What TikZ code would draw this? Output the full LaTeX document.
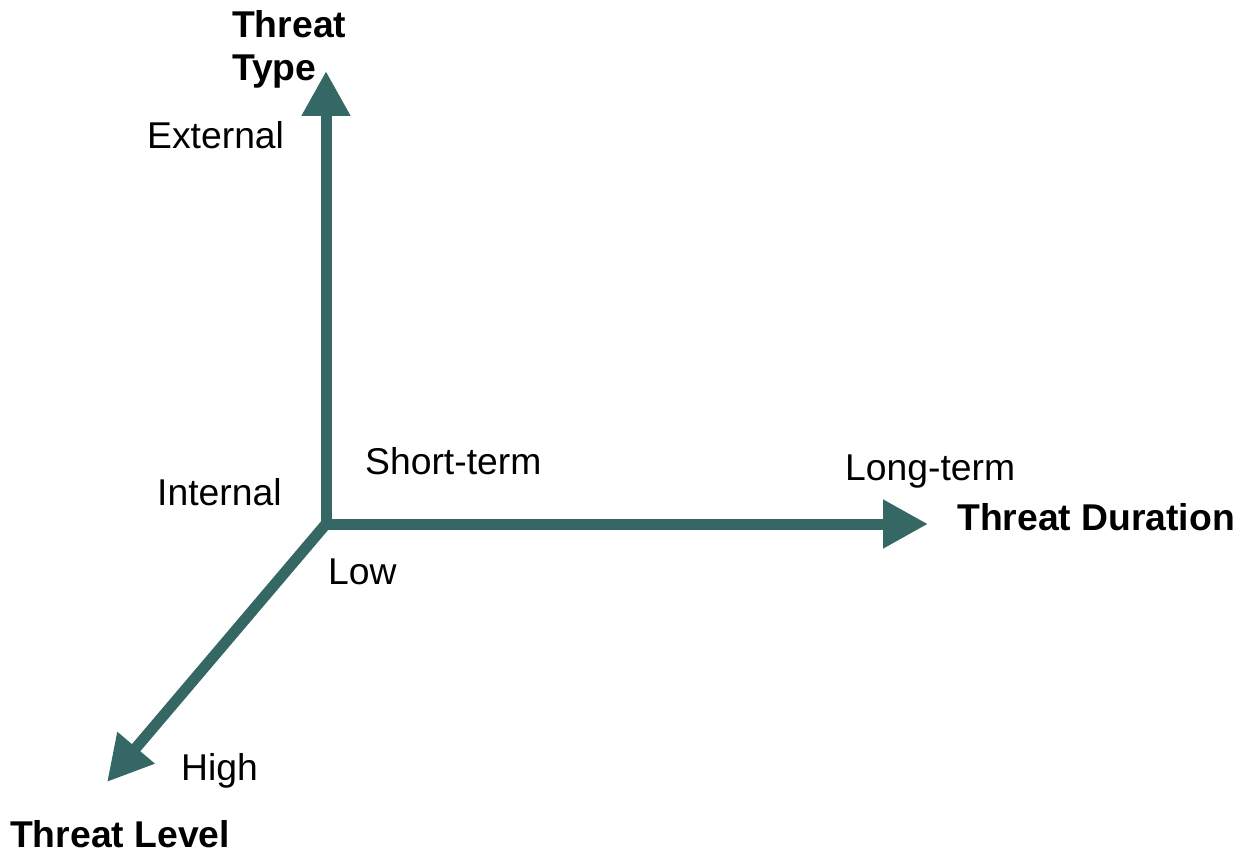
\documentclass[tikz,border=0pt]{standalone}
\usepackage{fontspec}
\setmainfont{Liberation Sans}
\usetikzlibrary{arrows.meta}
\definecolor{axis}{RGB}{53,104,101}
\begin{document}
\begin{tikzpicture}[x=1pt,y=-1pt,
  axisline/.style={draw=axis,line width=11pt,
    -{Triangle[length=45pt,width=46pt,fill=axis]}},
  lbl/.style={anchor=base west,inner sep=0pt,font=\fontsize{37.3}{43}\selectfont},
  ttl/.style={lbl,font=\fontsize{37.3}{43}\selectfont\bfseries}]
\useasboundingbox (0,0) rectangle (1242,853);
\coordinate (O) at (326,524);
\coordinate (TT) at (326,71);
\coordinate (TD) at (928,524);
\coordinate (TL) at (107,782);
\draw[axisline] (O) -- (TT);
\draw[axisline] (O) -- (TD);
\draw[axisline] (O) -- (TL);
\fill[axis] (320.5,518.5) rectangle (331.5,529.5);
\node[ttl,align=left,anchor=north west] (ttype) at (232,10) {Threat\\Type};
\node[lbl] (ext) at (147,149) {External};
\node[lbl] (int) at (157,505) {Internal};
\node[lbl] (st) at (365,474) {Short-term};
\node[lbl] (lt) at (845,480) {Long-term};
\node[ttl] (tdur) at (957,530) {Threat Duration};
\node[lbl] (low) at (328,584) {Low};
\node[lbl] (high) at (181,780) {High};
\node[ttl] (tlev) at (10,847) {Threat Level};
\end{tikzpicture}
\end{document}
